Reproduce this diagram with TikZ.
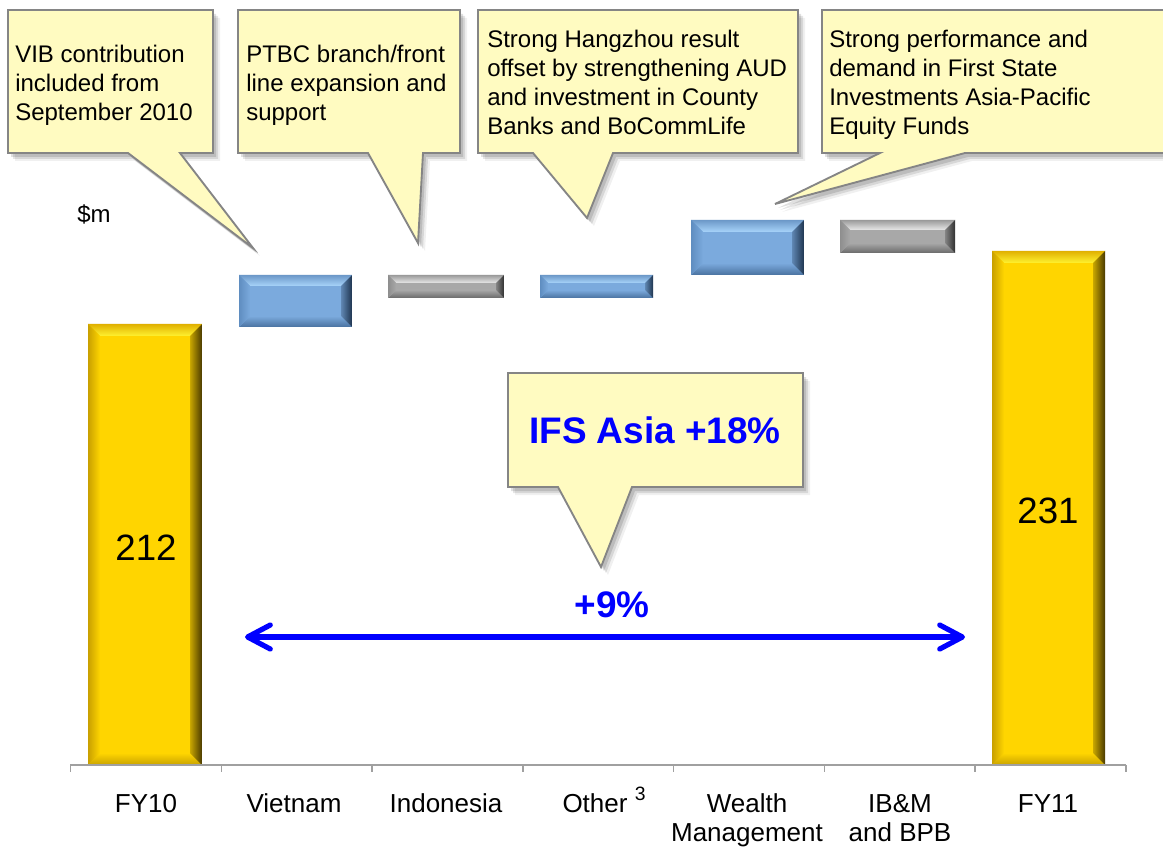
\documentclass[tikz,border=0pt]{standalone}
\usepackage{fontspec}
\setmainfont{Liberation Sans}
\usetikzlibrary{arrows.meta,fit}
\definecolor{calfill}{HTML}{FFFBC1}
\definecolor{calline}{HTML}{858585}
\definecolor{axisgray}{HTML}{A0A0A0}
\definecolor{gBase}{HTML}{FFD500}
\definecolor{gTopO}{HTML}{E0B000}
\definecolor{gTopI}{HTML}{FFF230}
\definecolor{gBot}{HTML}{C8A200}
\definecolor{gLeft}{HTML}{C9A000}
\definecolor{gRight}{HTML}{4A3A00}
\definecolor{bBase}{HTML}{7BAADD}
\definecolor{bTopO}{HTML}{6C98C8}
\definecolor{bTopI}{HTML}{A8D4FA}
\definecolor{bBot}{HTML}{4A72A0}
\definecolor{bLeft}{HTML}{5F8DC0}
\definecolor{bRight}{HTML}{1F3550}
\definecolor{sBase}{HTML}{A8A8A8}
\definecolor{sTopO}{HTML}{9A9A9A}
\definecolor{sTopI}{HTML}{E8E8E8}
\definecolor{sBot}{HTML}{6A6A6A}
\definecolor{sLeft}{HTML}{8E8E8E}
\definecolor{sRight}{HTML}{303030}
\newcommand\calloutshape[1]{%
  \begin{scope}[shift={(7,8)}]\fill[black,opacity=0.06] #1;\end{scope}
  \begin{scope}[shift={(5,6)}]\fill[black,opacity=0.10] #1;\end{scope}
  \begin{scope}[shift={(3,4)}]\fill[black,opacity=0.12] #1;\end{scope}
  \filldraw[callout] #1;
}
\tikzset{
  callout/.style={fill=calfill, draw=calline, line width=1.4pt, line join=miter},
  caltext/.style={anchor=north west, inner sep=0pt, align=left, font=\fontsize{18}{21.75}\selectfont},
  lbl/.style={anchor=north, inner sep=0pt, align=center, font=\fontsize{19.5}{21.75}\selectfont},
  valtext/.style={anchor=base, inner sep=0pt, font=\fontsize{27.5}{30}\selectfont},
  bluetext/.style={anchor=base, inner sep=0pt, text=blue, font=\bfseries\fontsize{27.7}{32}\selectfont},
  axisline/.style={draw=axisgray, line width=1.1pt},
  bevelbar/.style n args={7}{fill=#1, draw=none, inner sep=0pt, outer sep=0pt,
    path picture={
      \coordinate (ppA) at (path picture bounding box.north west);
      \coordinate (ppB) at (path picture bounding box.north east);
      \coordinate (ppC) at (path picture bounding box.south east);
      \coordinate (ppD) at (path picture bounding box.south west);
      \coordinate (ppa) at ([shift={(#7,#7)}]ppA);
      \coordinate (ppb) at ([shift={(-#7,#7)}]ppB);
      \coordinate (ppc) at ([shift={(-#7,-#7)}]ppC);
      \coordinate (ppd) at ([shift={(#7,-#7)}]ppD);
      \shade[top color=#2, bottom color=#3] (ppA) -- (ppB) -- (ppb) -- (ppa) -- cycle;
      \shade[top color=#1, bottom color=#4] (ppD) -- (ppC) -- (ppc) -- (ppd) -- cycle;
      \shade[left color=#5, right color=#1] (ppA) -- (ppa) -- (ppd) -- (ppD) -- cycle;
      \shade[left color=#1!70!#6, right color=#6] (ppB) -- (ppb) -- (ppc) -- (ppC) -- cycle;
    }},
  goldbar/.style={bevelbar={gBase}{gTopO}{gTopI}{gBot}{gLeft}{gRight}{#1}},
  bluebar/.style={bevelbar={bBase}{bTopO}{bTopI}{bBot}{bLeft}{bRight}{#1}},
  graybar/.style={bevelbar={sBase}{sTopO}{sTopI}{sBot}{sLeft}{sRight}{#1}},
}
\begin{document}
\begin{tikzpicture}[x=0.75pt,y=-0.75pt]
\useasboundingbox (0,0) rectangle (1163,848);
\fill[white] (0,0) rectangle (1163,848);
\clip (0,0) rectangle (1163,848);

% callouts
\calloutshape{(8,10) -- (213,10) -- (213,153) -- (180,153) -- (253,248) -- (128,153) -- (8,153) -- cycle}
\calloutshape{(238,10) -- (460,10) -- (460,153) -- (423,153) -- (418,243) -- (368,153) -- (238,153) -- cycle}
\calloutshape{(478,10) -- (798,10) -- (798,153) -- (613,153) -- (587,218) -- (533,153) -- (478,153) -- cycle}
\calloutshape{(822,10) -- (1180,10) -- (1180,153) -- (965,153) -- (775,204) -- (880,153) -- (822,153) -- cycle}
\calloutshape{(508,373) -- (803,373) -- (803,487) -- (632,487) -- (601,567) -- (558,487) -- (508,487) -- cycle}

\node[caltext] (t1) at (15,41.7) {\strut VIB contribution\\\strut included from\\\strut September 2010};
\node[caltext] (t2) at (246,41.7) {\strut PTBC branch/front\\\strut line expansion and\\\strut support};
\node[caltext] (t3) at (487,26.7) {\strut Strong Hangzhou result\\\strut offset by strengthening AUD\\\strut and investment in County\\\strut Banks and BoCommLife};
\node[caltext] (t4) at (829,26.7) {\strut Strong performance and\\\strut demand in First State\\\strut Investments Asia-Pacific\\\strut Equity Funds};
\node[bluetext] (ifs) at (655,443) {IFS Asia +18\%};

% unit
\node[anchor=base west, inner sep=0pt, font=\fontsize{18}{21.75}\selectfont] (unit) at (77,223) {\$m};

% bars
\node[goldbar=12, fit={(88,324) (202,765)}] (fy10) {};
\node[bluebar=11, fit={(239,275) (352,327)}] (viet) {};
\node[graybar=8, fit={(388,275) (504,298)}] (indo) {};
\node[bluebar=8, fit={(540,275) (653,298)}] (other) {};
\node[bluebar=12, fit={(691,220) (804,275)}] (wealth) {};
\node[graybar=10, fit={(840,220) (955,253)}] (ibm) {};
\node[goldbar=12, fit={(992,251) (1105,765)}] (fy11) {};

\node[valtext] (v212) at (146,560) {212};
\node[valtext] (v231) at (1048,523) {231};

% axis
\coordinate (axL) at (70,765);
\coordinate (axR) at (1126,765);
\draw[axisline] (axL) -- (axR);
\foreach \i in {0,...,7} \draw[axisline] ({70.6+150.75*\i},765) -- ++(0,7);

% labels
\node[lbl] (lfy10) at (146,791.7) {\strut FY10};
\node[lbl] (lviet) at (294,791.7) {\strut Vietnam};
\node[lbl] (lindo) at (446,791.7) {\strut Indonesia};
\node[lbl] (lother) at (604,791.7) {\strut Other \raisebox{9pt}[0pt][0pt]{\fontsize{14.5}{14.5}\selectfont 3}};
\node[lbl] (lwealth) at (747,791.7) {\strut Wealth\\\strut Management};
\node[lbl] (libm) at (900,791.7) {\strut IB\&M\\\strut and BPB};
\node[lbl] (lfy11) at (1048,791.7) {\strut FY11};

% growth arrow
\coordinate (arrL) at (245,637);
\coordinate (arrR) at (965,637);
\draw[blue, line width=3.9pt, {Straight Barb[length=17pt,width=18pt,round]}-{Straight Barb[length=17pt,width=18pt,round]}] (arrL) -- (arrR);
\node[bluetext] (g9) at (612,617) {+9\%};
\end{tikzpicture}
\end{document}
